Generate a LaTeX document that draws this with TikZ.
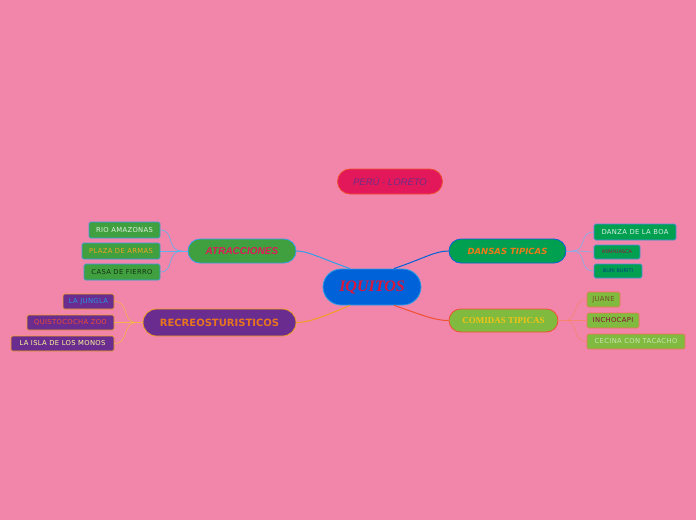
\documentclass[tikz,border=0pt]{standalone}
\usepackage{fontspec}
\setmainfont{Liberation Sans}
\newfontfamily\deco{DejaVu Sans}
\newfontfamily\leaffont[LetterSpace=5]{DejaVu Sans}
\newfontfamily\serifb{Liberation Serif}
\usetikzlibrary{shapes.misc}
\definecolor{bg}{HTML}{F285AA}
\definecolor{crim}{HTML}{E2185A}
\definecolor{blu}{HTML}{0062D8}
\definecolor{grn}{HTML}{00A050}
\definecolor{lgrn}{HTML}{80BB40}
\definecolor{mgrn}{HTML}{40A040}
\definecolor{purp}{HTML}{6A2D8F}
\definecolor{oran}{HTML}{F0A020}
\definecolor{ored}{HTML}{F05030}
\definecolor{lblu}{HTML}{30A0E8}
\definecolor{pertxt}{HTML}{6E2E86}
\definecolor{iqtxt}{HTML}{D8183C}
\definecolor{dantxt}{HTML}{F07A18}
\definecolor{comtxt}{HTML}{F2C414}
\definecolor{rectxt}{HTML}{E8741E}
\tikzset{
  main/.style={rounded rectangle, draw, line width=0.8pt, inner sep=0pt},
  leaf/.style={rectangle, rounded corners=1.5pt, draw, line width=0.6pt, inner sep=0pt, font=\leaffont\fontsize{6.8}{6.8}\selectfont},
  conn/.style={line width=1pt},
  lconn/.style={line width=0.6pt},
}
\begin{document}
\begin{tikzpicture}[x=1pt,y=-1pt]
\fill[bg] (0,0) rectangle (696,520);
\useasboundingbox (0,0) rectangle (696,520);

\node[main, fill=crim, draw=ored, minimum width=105, minimum height=25, text=pertxt, font=\itshape\fontsize{9.5}{9.5}\selectfont] (peru) at (390,181.5) {PERÚ - LORETO};
\node[main, fill=blu, draw=lblu, minimum width=98, minimum height=36, text=iqtxt, font=\serifb\bfseries\itshape\fontsize{16}{16}\selectfont] (iq) at (372,287) {IQUITOS};

\node[main, fill=grn, draw=blu, minimum width=117, minimum height=24, text=dantxt, font=\deco\bfseries\itshape\fontsize{8.5}{8.5}\selectfont] (dan) at (507.5,251) {DANSAS TIPICAS};
\node[main, fill=lgrn, draw=ored, minimum width=109, minimum height=23, text=comtxt, font=\serifb\bfseries\fontsize{9}{9}\selectfont] (com) at (503.5,320.5) {COMIDAS TIPICAS};
\node[main, fill=mgrn, draw=lblu, minimum width=108, minimum height=24, text=crim, font=\bfseries\itshape\fontsize{10}{10}\selectfont] (atr) at (242,251) {ATRACCIONES};
\node[main, fill=purp, draw=oran, minimum width=153, minimum height=27, text=rectxt, font=\deco\bfseries\fontsize{10}{10}\selectfont] (rec) at (219.5,322.5) {RECREOSTURISTICOS};

% right leaves
\node[leaf, fill=grn, draw=blu!70!white, minimum width=82, minimum height=16, text=white!85!grn] (l1) at (635,232) {DANZA DE LA BOA};
\node[leaf, fill=grn, draw=blu!70!white, minimum width=46, minimum height=14, text=crim!70!black, font=\deco\fontsize{5}{5}\selectfont] (l2) at (617,252) {AYAHUASCA};
\node[leaf, fill=grn, draw=blu!70!white, minimum width=48, minimum height=14, text=blu!60!black, font=\deco\fontsize{5}{5}\selectfont] (l3) at (618,271) {BURI BURITI};
\node[leaf, fill=lgrn, draw=ored!80!white, minimum width=33, minimum height=15, text=brown!60!black] (c1) at (603.5,299.5) {JUANE};
\node[leaf, fill=lgrn, draw=ored!80!white, minimum width=52, minimum height=15, text=crim!60!black] (c2) at (613,320.5) {INCHOCAPI};
\node[leaf, fill=lgrn, draw=ored!80!white, minimum width=98, minimum height=15, text=white!60!lgrn] (c3) at (636,341.5) {CECINA CON TACACHO};

% left leaves
\node[leaf, fill=mgrn, draw=lblu, minimum width=71, minimum height=16, text=white!85!mgrn] (a1) at (124.5,230) {RIO AMAZONAS};
\node[leaf, fill=mgrn, draw=lblu, minimum width=78, minimum height=16, text=oran] (a2) at (121,251) {PLAZA DE ARMAS};
\node[leaf, fill=mgrn, draw=lblu, minimum width=76, minimum height=16, text=black!70!mgrn] (a3) at (122,272) {CASA DE FIERRO};
\node[leaf, fill=purp, draw=oran, minimum width=51, minimum height=15, text=lblu!80!blu] (r1) at (88.5,301.5) {LA JUNGLA};
\node[leaf, fill=purp, draw=oran, minimum width=87, minimum height=15, text=ored!90!crim] (r2) at (70.5,322.5) {QUISTOCOCHA ZOO};
\node[leaf, fill=purp, draw=oran, minimum width=103, minimum height=15, text=yellow!40!white] (r3) at (62.5,343.5) {LA ISLA DE LOS MONOS};

% main connectors
\draw[conn, blu] (iq.40) .. controls (425,258) and (435,251) .. (dan.west);
\draw[conn, ored] (iq.-40) .. controls (425,316) and (435,320.5) .. (com.west);
\draw[conn, lblu] (iq.140) .. controls (320,258) and (308,251) .. (atr.east);
\draw[conn, oran] (iq.-140) .. controls (320,318) and (308,322.5) .. (rec.east);

% leaf connectors
\coordinate (dj) at (572,251);
\draw[lconn, blu!50!white] (dan.east) -- (dj);
\draw[lconn, blu!50!white] (dj) .. controls (588,251) and (578,232) .. (l1.west);
\draw[lconn, blu!50!white] (dj) .. controls (586,251) and (588,252) .. (l2.west);
\draw[lconn, blu!50!white] (dj) .. controls (588,251) and (578,271) .. (l3.west);
\coordinate (cj) at (564,320.5);
\draw[lconn, ored!70!white] (com.east) -- (cj);
\draw[lconn, ored!70!white] (cj) .. controls (580,320.5) and (571,299.5) .. (c1.west);
\draw[lconn, ored!70!white] (cj) -- (c2.west);
\draw[lconn, ored!70!white] (cj) .. controls (580,320.5) and (571,341.5) .. (c3.west);
\coordinate (aj) at (182,251);
\draw[lconn, lblu!80!white] (atr.west) -- (aj);
\draw[lconn, lblu!80!white] (aj) .. controls (166,251) and (175,230) .. (a1.east);
\draw[lconn, lblu!80!white] (aj) -- (a2.east);
\draw[lconn, lblu!80!white] (aj) .. controls (166,251) and (175,272) .. (a3.east);
\coordinate (rj) at (137,322.5);
\draw[lconn, oran!80!white] (rec.west) -- (rj);
\draw[lconn, oran!80!white] (rj) .. controls (121,322.5) and (130,301.5) .. (r1.east);
\draw[lconn, oran!80!white] (rj) -- (r2.east);
\draw[lconn, oran!80!white] (rj) .. controls (121,322.5) and (130,343.5) .. (r3.east);
\end{tikzpicture}
\end{document}
